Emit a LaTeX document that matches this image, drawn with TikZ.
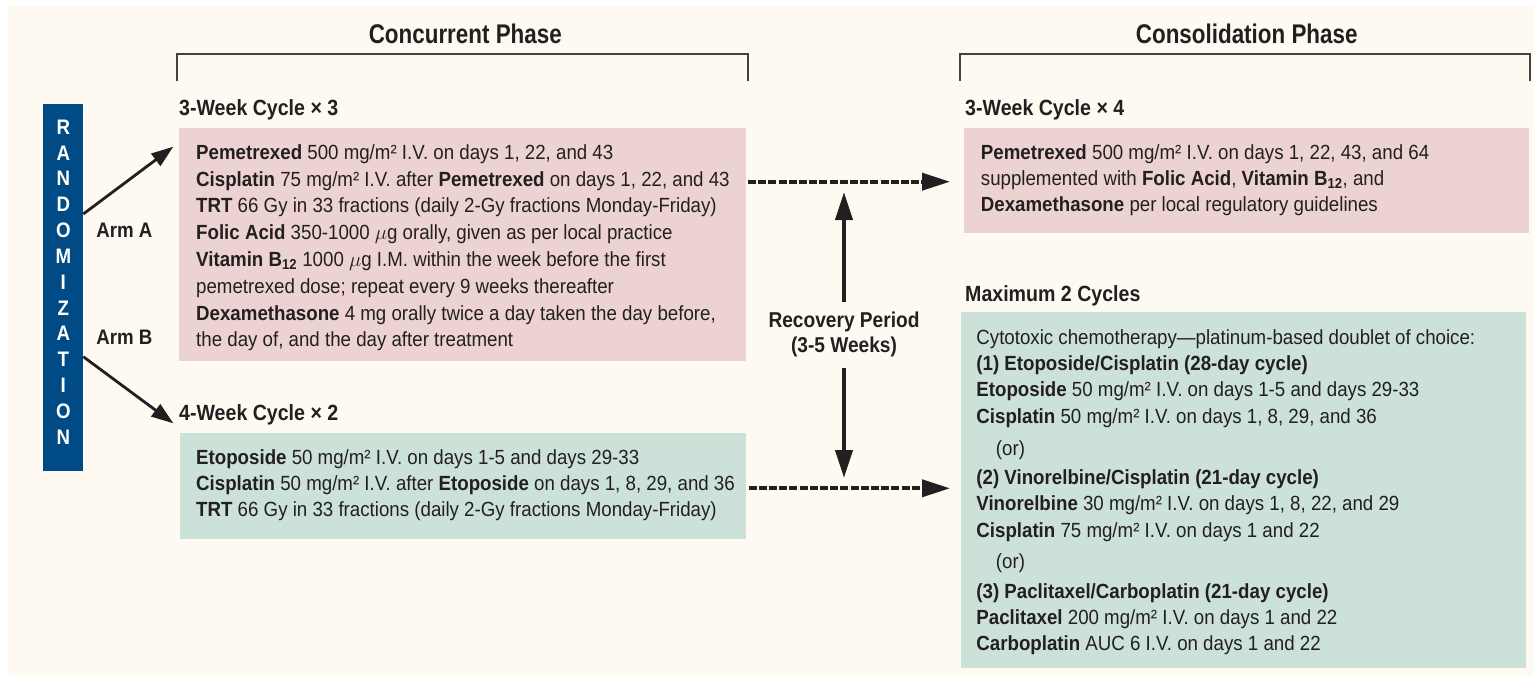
\documentclass[tikz,border=0pt]{standalone}
\usepackage{fontspec}
\setmainfont[FakeStretch=0.912]{Liberation Sans}
\newfontfamily\headfont[FakeStretch=0.89]{Liberation Sans}
\newfontfamily\titlefont[FakeStretch=0.83]{Liberation Sans}
\usetikzlibrary{arrows.meta,calc}
\definecolor{bgcream}{HTML}{FEFAF2}
\definecolor{pinkfill}{HTML}{ECD3D1}
\definecolor{greenfill}{HTML}{CCE1D8}
\definecolor{randblue}{HTML}{004B85}
\definecolor{ink}{HTML}{231F20}
\newcommand{\rows}[1]{\begin{tabular}[t]{@{}l@{}}#1\end{tabular}}
\newcommand{\crows}[1]{\begin{tabular}[t]{@{}c@{}}#1\end{tabular}}
\newcommand{\ug}{$\mu$g}
\newcommand{\Btw}{B\textsubscript{12}}
\begin{document}
\begin{tikzpicture}[x=1pt,y=-1pt,
  every node/.style={text=ink},
  panel/.style={anchor=north west, inner sep=0pt, outer sep=0pt},
  body/.style={anchor=base west, inner sep=0pt},
  titletxt/.style={anchor=base, inner sep=0pt, font=\titlefont\bfseries\fontsize{27}{32}\selectfont},
  headtxt/.style={anchor=base west, inner sep=0pt, font=\headfont\bfseries\fontsize{22}{26}\selectfont},
  armtxt/.style={anchor=base, inner sep=0pt, font=\headfont\bfseries\fontsize{21}{25}\selectfont},
  bracket/.style={line width=1.6pt, draw=ink!85},
  armarrow/.style={line width=2.8pt, draw=ink, -{Triangle[length=22pt,width=15pt]}},
  dasharrow/.style={line width=3.8pt, draw=ink, dash pattern=on 8pt off 2.2pt, -{Triangle[length=28pt,width=17pt]}},
  varrow/.style={line width=4pt, draw=ink, -{Triangle[length=28pt,width=17pt]}}
]
\fill[white] (0,0) rectangle (1538,680);
\fill[bgcream] (8,6) rectangle (1533,676);
\useasboundingbox (0,0) rectangle (1538,680);

% titles and brackets
\node[titletxt] (concT) at (465.3,43.3) {Concurrent Phase};
\node[titletxt] (consT) at (1246.7,43.3) {Consolidation Phase};
\draw[bracket] (177,81) |- (748,54) -- (748,81);
\draw[bracket] (960,81) |- (1530,54) -- (1530,81);

% headings
\node[headtxt] (hA) at (179,115) {3-Week Cycle × 3};
\node[headtxt] (hB) at (179,420.7) {4-Week Cycle × 2};
\node[headtxt] (hC) at (965,115) {3-Week Cycle × 4};
\node[headtxt] (hD) at (965,301) {Maximum 2 Cycles};

% panels
\node[panel, fill=pinkfill, minimum width=567pt, minimum height=233pt] (armA) at (179,128) {};
\node[panel, fill=greenfill, minimum width=566pt, minimum height=106.5pt] (armB) at (179.5,432.7) {};
\node[panel, fill=pinkfill, minimum width=565.5pt, minimum height=105pt] (consA) at (963.8,128.3) {};
\node[panel, fill=greenfill, minimum width=564.8pt, minimum height=355.4pt] (consB) at (961.2,312.3) {};

\node[body, font=\fontsize{20.5}{26.8}\selectfont] (armAtxt) at (196,159.3) {\rows{%
\textbf{Pemetrexed} 500 mg/m² I.V. on days 1, 22, and 43\\
\textbf{Cisplatin} 75 mg/m² I.V. after \textbf{Pemetrexed} on days 1, 22, and 43\\
\textbf{TRT} 66 Gy in 33 fractions (daily 2-Gy fractions Monday-Friday)\\
\textbf{Folic Acid} 350-1000 \ug{} orally, given as per local practice\\
\textbf{Vitamin \Btw} 1000 \ug{} I.M. within the week before the first\\
pemetrexed dose; repeat every 9 weeks thereafter\\
\textbf{Dexamethasone} 4 mg orally twice a day taken the day before,\\
the day of, and the day after treatment}};

\node[body, font=\fontsize{20.5}{26.3}\selectfont] (armBtxt) at (196,464) {\rows{%
\textbf{Etoposide} 50 mg/m² I.V. on days 1-5 and days 29-33\\
\textbf{Cisplatin} 50 mg/m² I.V. after \textbf{Etoposide} on days 1, 8, 29, and 36\\
\textbf{TRT} 66 Gy in 33 fractions (daily 2-Gy fractions Monday-Friday)}};

\node[body, font=\fontsize{20.5}{25.85}\selectfont] (consAtxt) at (980.7,159.3) {\rows{%
\textbf{Pemetrexed} 500 mg/m² I.V. on days 1, 22, 43, and 64\\
supplemented with \textbf{Folic Acid}, \textbf{Vitamin \Btw}, and\\
\textbf{Dexamethasone} per local regulatory guidelines}};

\node[body, font=\fontsize{20.5}{26.3}\selectfont] (consBtxt) at (976.2,344.3) {\rows{%
Cytotoxic chemotherapy—platinum-based doublet of choice:\\
\textbf{(1) Etoposide/Cisplatin (28-day cycle)}\\
\textbf{Etoposide} 50 mg/m² I.V. on days 1-5 and days 29-33\\
\textbf{Cisplatin} 50 mg/m² I.V. on days 1, 8, 29, and 36\\[6pt]
\hspace*{19.5pt}(or)\\[2.7pt]
\textbf{(2) Vinorelbine/Cisplatin (21-day cycle)}\\
\textbf{Vinorelbine} 30 mg/m² I.V. on days 1, 8, 22, and 29\\
\textbf{Cisplatin} 75 mg/m² I.V. on days 1 and 22\\[5.3pt]
\hspace*{19.5pt}(or)\\[3pt]
\textbf{(3) Paclitaxel/Carboplatin (21-day cycle)}\\
\textbf{Paclitaxel} 200 mg/m² I.V. on days 1 and 22\\
\textbf{Carboplatin} AUC 6 I.V. on days 1 and 22}};

% randomization bar
\node[panel, fill=randblue, minimum width=40pt, minimum height=366.7pt] (rand) at (43.3,104) {};
\node[anchor=base, inner sep=0pt, text=white, font=\headfont\bfseries\fontsize{21}{25.83}\selectfont] (randtxt) at (63.3,134.2) {\crows{R\\A\\N\\D\\O\\M\\I\\Z\\A\\T\\I\\O\\N}};

\node[armtxt] (lblA) at (124.3,237.7) {Arm A};
\node[armtxt] (lblB) at (124.3,344.3) {Arm B};

\draw[armarrow] ($(rand.north east)+(0,110)$) -- ($(armA.north west)+(-5.7,18.7)$);
\draw[armarrow] ($(rand.north east)+(0,252.7)$) -- ($(armB.north west)+(-6.2,-9.4)$);

% dashed transitions
\draw[dasharrow] ($(armA.north east)+(2,53.7)$) -- ($(consA.north west)+(-13.8,53.4)$);
\draw[dasharrow] ($(armB.north east)+(3,55.6)$) -- ($(consB.north west)+(-11.2,176)$);

% recovery period
\node[inner sep=0pt, outer sep=0pt, minimum height=66pt, font=\headfont\bfseries\fontsize{21.5}{25.5}\selectfont] (rec) at (844,335) {\crows{Recovery Period\\(3-5 Weeks)}};
\draw[varrow] (rec.north) -- ($(rec.north)+(0,-110)$);
\draw[varrow] (rec.south) -- ($(rec.south)+(0,110)$);
\end{tikzpicture}
\end{document}
